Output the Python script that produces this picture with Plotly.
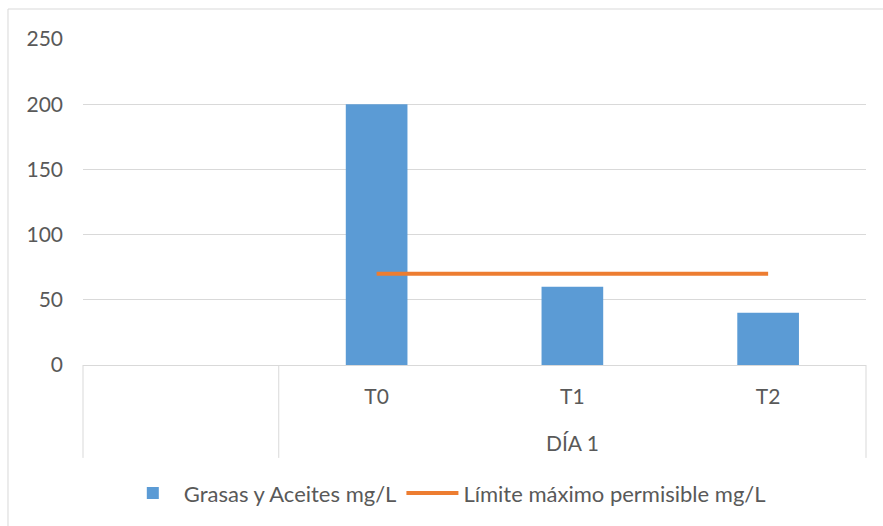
import plotly.graph_objects as go

# Categories on the horizontal axis (first slot is an empty category)
categories = [" ", "T0", "T1", "T2"]
group_label = "DÍA 1"
group_members = ["T0", "T1", "T2"]

# Series values
grasas_aceites = [None, 200, 60, 40]
limite_permisible = [70, 70, 70]

y_ticks = [0, 50, 100, 150, 200, 250]

FONT = "Lato, Liberation Sans, Arial, sans-serif"
TEXT = "#595959"
GRID = "#d9d9d9"

fig = go.Figure()

fig.add_trace(go.Bar(
    x=categories,
    y=grasas_aceites,
    name="Grasas y Aceites mg/L",
    marker=dict(color="#5B9BD5", line=dict(width=0)),
    width=0.315,
))

fig.add_trace(go.Scatter(
    x=group_members,
    y=limite_permisible,
    name="Límite máximo permisible mg/L",
    mode="lines",
    line=dict(color="#ED7D31", width=4),
))

# Divider lines of the two-level category axis (at group boundaries)
n = len(categories)
first_group_end = categories.index(group_members[0])
divider_bottom = -0.285
shapes = []
for b in [0, first_group_end, n]:
    shapes.append(dict(
        type="line", xref="paper", yref="paper",
        x0=b / n, x1=b / n, y0=0, y1=divider_bottom,
        line=dict(color=GRID, width=1),
    ))

# Chart-area frame
shapes.append(dict(
    type="rect", xref="paper", yref="paper",
    x0=-0.0958, x1=1.06, y0=1.092, y1=-0.52,
    line=dict(color=GRID, width=1), fillcolor="rgba(0,0,0,0)",
))

fig.update_layout(
    width=883,
    height=526,
    margin=dict(l=83, r=17, t=39, b=161),
    paper_bgcolor="white",
    plot_bgcolor="white",
    font=dict(family=FONT, size=21, color=TEXT),
    showlegend=True,
    legend=dict(
        orientation="h",
        x=0.464, xanchor="center",
        y=-0.393, yanchor="middle",
        itemwidth=52,
        font=dict(family=FONT, size=22, color=TEXT),
        bgcolor="rgba(0,0,0,0)",
    ),
    shapes=shapes,
    annotations=[dict(
        x=group_members[len(group_members) // 2], xref="x",
        y=-0.239, yref="paper",
        text=group_label, showarrow=False,
        yanchor="middle",
        font=dict(family=FONT, size=21, color=TEXT),
    )],
    bargap=0.685,
)

fig.update_xaxes(
    type="category",
    categoryorder="array",
    categoryarray=categories,
    range=[-0.5, n - 0.5],
    showline=True,
    linecolor=GRID,
    linewidth=1,
    showgrid=False,
    ticks="",
    ticklabelstandoff=13,
    tickfont=dict(family=FONT, size=21, color=TEXT),
)

fig.update_yaxes(
    range=[0, 250],
    tickvals=y_ticks,
    showgrid=True,
    gridcolor=GRID,
    gridwidth=1,
    zeroline=False,
    showline=False,
    ticks="",
    ticklabelstandoff=19,
    tickfont=dict(family=FONT, size=21, color=TEXT),
)

fig.write_html("out.html")
